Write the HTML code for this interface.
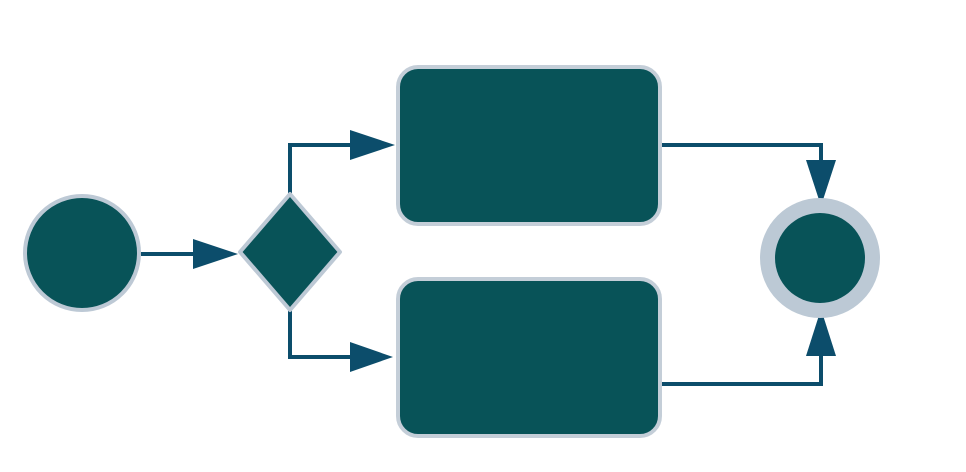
<!DOCTYPE html>
<html><head><style>html,body{margin:0;padding:0;background:#fff;width:966px;height:472px;overflow:hidden}</style></head>
<body>
<svg width="966" height="472" viewBox="0 0 966 472" xmlns="http://www.w3.org/2000/svg">
<g fill="none" stroke="#0c4d6b" stroke-width="4">
<line x1="141" y1="254" x2="200" y2="254"/>
<polyline points="290,194 290,145 355,145"/>
<polyline points="290,310 290,357 355,357"/>
<polyline points="661,145 821,145 821,165"/>
<polyline points="661,384 821,384 821,350"/>
</g>
<g fill="#0c4d6b">
<polygon points="193,239 238,254 193,269"/>
<polygon points="350,130 395,145 350,160"/>
<polygon points="350,342 393,357 350,372"/>
<polygon points="806,160 836,160 821,206"/>
<polygon points="806,356 836,356 821,309"/>
</g>
<circle cx="82" cy="253" r="57" fill="#085358" stroke="#bdc9d5" stroke-width="4"/>
<polygon points="290,194 340,252 290,310 240,252" fill="#085358" stroke="#bdc9d5" stroke-width="4" stroke-linejoin="round"/>
<rect x="398" y="67" width="262" height="157" rx="20" fill="#085358" stroke="#c4ced8" stroke-width="4"/>
<rect x="398" y="279" width="262" height="157" rx="20" fill="#085358" stroke="#c4ced8" stroke-width="4"/>
<circle cx="820" cy="258" r="60" fill="#bcc9d5"/>
<circle cx="820" cy="258" r="45" fill="#085358"/>
</svg>
</body></html>
